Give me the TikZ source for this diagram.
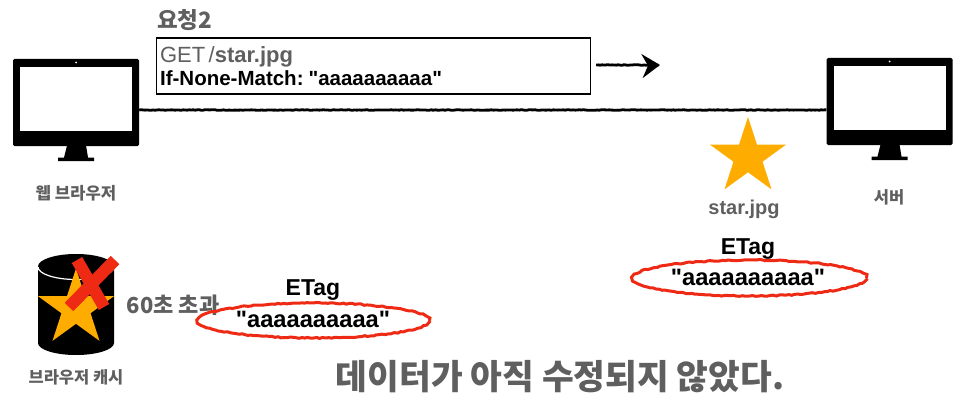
\documentclass[tikz,border=0pt]{standalone}
\usepackage{fontspec}
\usepackage{xcolor}
\setmainfont{Liberation Sans}
\newfontfamily\tagfont{Liberation Sans}
\newfontfamily\krfont{Noto Sans CJK KR}
\usetikzlibrary{arrows.meta,positioning,shapes.geometric,decorations.pathmorphing}
\definecolor{labelgrey}{HTML}{5F5F5F}
\definecolor{stargold}{HTML}{FFAC00}
\definecolor{markred}{HTML}{EE2A14}
\newcommand{\fsize}[1]{\fontsize{#1}{#1}\selectfont}
\tikzset{
  frame/.style={rectangle,rounded corners=1.5,fill=black,minimum width=126,minimum height=87,inner sep=0},
  screen/.style={rectangle,fill=white,minimum width=112,minimum height=64,inner sep=0},
  monitor/.pic={
    \node[frame] (-frame) at (0,0) {};
    \node[screen] (-screen) at (0,-3.5) {};
    \fill[white] (0,-40) circle[radius=1];
    \fill (-9,43) -- (10,43) -- (12,55) -- (18,55) -- (18,58.5) -- (-18,58.5) -- (-18,55) -- (-12,55) -- cycle;
  },
  rough/.style={decorate,decoration={random steps,segment length=3,amplitude=0.55}},
  wire/.style={decorate,decoration={random steps,segment length=2,amplitude=0.3},line width=2.8,draw=black},
  send/.style={decorate,decoration={random steps,segment length=2,amplitude=0.3},line width=2.8,draw=black,-{Stealth[length=18,width=24,inset=6]}},
  request/.style={rectangle,draw=black,line width=1.2,fill=white,text width=427,minimum height=56,inner sep=3.5,align=left,anchor=west},
  caption/.style={text=labelgrey,inner sep=0},
  tagtext/.style={text=black,font=\tagfont\bfseries\fsize{23},inner sep=0},
  valuetext/.style={text=black,font=\tagfont\bfseries\fsize{23.7},inner sep=0},
  bigstar/.style={star,star points=5,star point ratio=2.618,fill=stargold,minimum size=80,inner sep=0},
  tagring/.style={ellipse,rough,draw=markred,line width=3,inner sep=0},
  crossmark/.style={draw=markred,line width=12}
}
\begin{document}
\begin{tikzpicture}[x=1pt,y=-1pt]
  \useasboundingbox (0,0) rectangle (960,401);
  \pic (browser) at (76,102.5) {monitor};
  \pic (server) at (889.5,101.5) {monitor};
  \node[caption,font=\krfont\bfseries\fsize{16.7}] (browserlabel) at (76,193) {웹 브라우저};
  \node[caption,font=\krfont\bfseries\fsize{16.5}] (serverlabel) at (889,197) {서버};

  \node[caption,font=\krfont\bfseries\fsize{22.5},anchor=west] (title) at (157,20) {요청2};
  \node[request] (req) at (156,66) {{\tagfont\color{labelgrey}\fsize{22}GET /\textbf{star.jpg}}\\[3pt]{\tagfont\bfseries\fsize{20.5}If-None-Match: "aaaaaaaaaa"}};
  \coordinate (reqtip) at (660,65);

  \draw[wire] ([yshift=-7.5]browser-frame.east) -- ([yshift=-8.5]server-frame.west);
  \draw[send] ([xshift=5,yshift=1]req.east) -- (reqtip);

  \node[bigstar] (origin) at (748,157) {};
  \node[caption,font=\bfseries\fsize{20}] (originlabel) at (744,209) {star.jpg};
  \node[tagring,minimum width=234,minimum height=36] (serverring) at (749.5,278) {};
  \node[tagtext] (servertag) at (748,249) {ETag};
  \node[valuetext] (servervalue) at (748,277) {"aaaaaaaaaa"};

  \fill (38,266.5) arc[start angle=180,end angle=360,x radius=38,y radius=12.5] -- (114,343) arc[start angle=0,end angle=180,x radius=38,y radius=12] -- cycle;
  \draw[white,line width=1.2] (38,267) arc[start angle=180,end angle=0,x radius=38,y radius=12.5];
  \node[bigstar] (cached) at (76,308.5) {};
  \draw[crossmark] (115,260) -- (69,307);
  \draw[crossmark] (77,260) -- (104,307);
  \node[caption,font=\krfont\bfseries\fsize{16.5}] (cachelabel) at (76,377) {브라우저 캐시};
  \node[caption,font=\krfont\bfseries\fsize{22}] (expired) at (173,305) {60초 초과};

  \node[tagring,minimum width=232,minimum height=35] (cachering) at (313.5,320.5) {};
  \node[tagtext] (cachetag) at (313,290) {ETag};
  \node[valuetext] (cachevalue) at (313,319) {"aaaaaaaaaa"};

  \node[caption,font=\krfont\bfseries\fsize{34.5}] (verdict) at (560,377) {데이터가 아직 수정되지 않았다.};
\end{tikzpicture}
\end{document}
